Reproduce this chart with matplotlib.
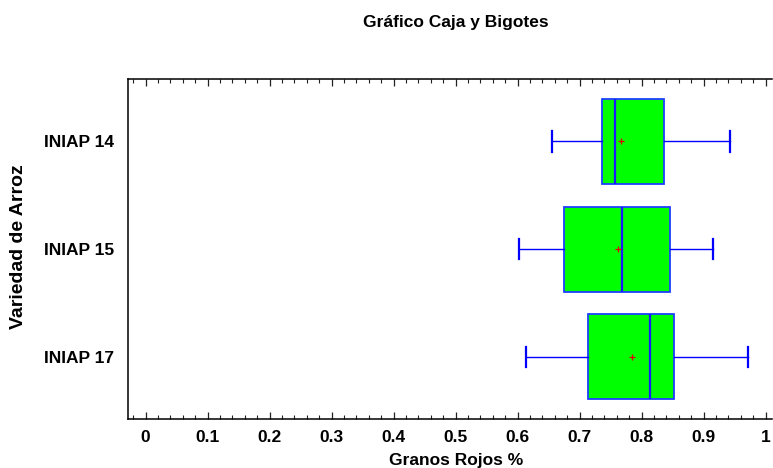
import matplotlib
matplotlib.use('Agg')
import matplotlib.pyplot as plt
from matplotlib.ticker import MultipleLocator

plt.rcParams['font.family'] = ['Liberation Sans', 'DejaVu Sans']
plt.rcParams['font.weight'] = 'bold'

# valores
variedades = ['INIAP 14', 'INIAP 15', 'INIAP 17']
whis_lo = [0.655, 0.602, 0.613]
q1 = [0.7365, 0.674, 0.713]
mediana = [0.7565, 0.769, 0.813]
q3 = [0.8355, 0.846, 0.852]
whis_hi = [0.942, 0.915, 0.972]
media = [0.766, 0.762, 0.785]

stats = []
for i in range(len(variedades)):
    stats.append({'label': variedades[i], 'whislo': whis_lo[i], 'q1': q1[i],
                  'med': mediana[i], 'q3': q3[i], 'whishi': whis_hi[i],
                  'mean': media[i], 'fliers': []})

fig = plt.figure(figsize=(7.73, 4.68), dpi=100)
ax = fig.add_axes([0.166, 0.104, 0.8327, 0.7272])

pos = list(range(1, len(variedades) + 1))
ax.bxp(stats, positions=pos, vert=False, widths=0.79, patch_artist=True,
       showmeans=True, showfliers=False,
       boxprops=dict(facecolor='#00ff00', edgecolor='#1f3fff', linewidth=1.3),
       medianprops=dict(color='#1a1aff', linewidth=1.6),
       whiskerprops=dict(color='#0000ff', linewidth=1.0),
       capprops=dict(color='#0000ff', linewidth=1.6),
       capwidths=0.19,
       meanprops=dict(marker='+', markeredgecolor='#e00000', markersize=5,
                      markeredgewidth=0.9))

ax.set_xlim(-0.028, 1.0102)
ax.set_ylim(len(variedades) + 0.58, 0.42)

ax.xaxis.set_minor_locator(MultipleLocator(0.02))
ax.set_xticks([i / 10 for i in range(11)])
ax.set_xticklabels(['0', '0.1', '0.2', '0.3', '0.4', '0.5', '0.6', '0.7', '0.8', '0.9', '1'])
ax.tick_params(axis='x', which='major', direction='in', length=4.8, width=0.9,
               top=True, labelsize=12.5, pad=8, color='#222222')
ax.tick_params(axis='x', which='minor', direction='in', length=2.6, width=0.8,
               top=True, color='#222222')
ax.set_yticks(pos)
ax.set_yticklabels(variedades)
ax.tick_params(axis='y', length=0, labelsize=12.5, pad=10)

for s in ax.spines.values():
    s.set_linewidth(1.1)
    s.set_color('black')
ax.spines['right'].set_visible(False)

fig.text(456 / 773, 1 - 460 / 468, 'Granos Rojos %', ha='center', va='center',
         fontsize=12.5, fontweight='bold')
fig.text(19 / 773, 1 - 247 / 468, 'Variedad de Arroz', ha='center', va='center',
         rotation=90, fontsize=14, fontweight='bold')
fig.text(456 / 773, 1 - 22 / 468, 'Gráfico Caja y Bigotes', ha='center', va='center',
         fontsize=12.5, fontweight='bold')

fig.savefig('out.png', dpi=100)
